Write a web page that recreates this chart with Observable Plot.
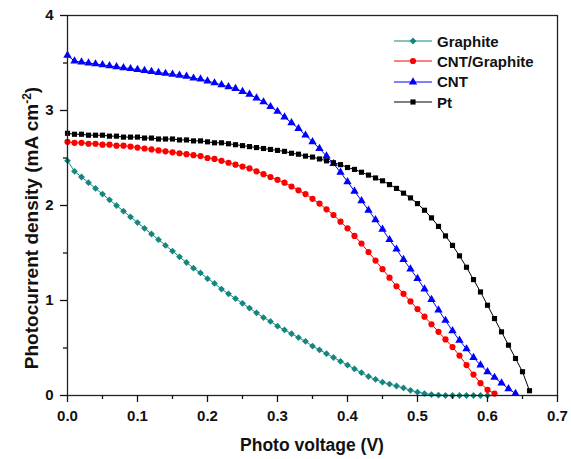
<!DOCTYPE html>
<html>
<head>
<meta charset="utf-8">
<script src="https://cdn.jsdelivr.net/npm/d3@7"></script>
<script src="https://cdn.jsdelivr.net/npm/@observablehq/plot@0.6"></script>
<style>
  html, body { margin: 0; padding: 0; background: #fff; }
  #wrap { position: relative; width: 571px; height: 459px; font-family: "Liberation Sans", Arial, sans-serif; }
  #legend { position: absolute; left: 394px; top: 31px; font-weight: bold; font-size: 15px; color: #111; }
  #legend .row { display: flex; align-items: center; height: 20.3px; }
  #legend svg { margin-right: 5px; }
</style>
</head>
<body>
<div id="wrap"></div>
<script>
// Photo voltage (V)
const voltage = [0.00,0.01,0.02,0.03,0.04,0.05,0.06,0.07,0.08,0.09,
                 0.10,0.11,0.12,0.13,0.14,0.15,0.16,0.17,0.18,0.19,
                 0.20,0.21,0.22,0.23,0.24,0.25,0.26,0.27,0.28,0.29,
                 0.30,0.31,0.32,0.33,0.34,0.35,0.36,0.37,0.38,0.39,
                 0.40,0.41,0.42,0.43,0.44,0.45,0.46,0.47,0.48,0.49,
                 0.50,0.51,0.52,0.53,0.54,0.55,0.56,0.57,0.58,0.59,
                 0.60,0.61,0.62,0.63,0.64,0.65,0.66];

// Photocurrent density (mA cm^-2), one value per voltage step
const graphite = [2.47,2.36,2.30,2.24,2.18,2.12,2.06,2.00,1.94,1.88,
                  1.82,1.76,1.70,1.64,1.58,1.52,1.46,1.40,1.34,1.29,
                  1.23,1.18,1.12,1.07,1.02,0.97,0.92,0.87,0.82,0.78,
                  0.73,0.69,0.65,0.61,0.57,0.52,0.48,0.44,0.40,0.36,
                  0.32,0.28,0.24,0.20,0.17,0.14,0.12,0.10,0.08,0.055,
                  0.035,0.02,0.01,0.005,0,0,0,0,0,0,
                  0];
const cntGraphite = [2.67,2.66,2.66,2.65,2.65,2.64,2.64,2.63,2.63,2.62,
                     2.61,2.60,2.59,2.58,2.57,2.56,2.55,2.54,2.53,2.52,
                     2.50,2.49,2.47,2.45,2.43,2.41,2.39,2.36,2.33,2.30,
                     2.27,2.24,2.20,2.16,2.12,2.07,2.02,1.96,1.90,1.83,
                     1.76,1.68,1.60,1.51,1.42,1.33,1.24,1.15,1.07,0.99,
                     0.91,0.83,0.75,0.67,0.59,0.51,0.42,0.32,0.22,0.13,
                     0.06,0.02];
const cnt = [3.58,3.52,3.51,3.50,3.49,3.48,3.47,3.46,3.45,3.44,
             3.43,3.42,3.41,3.40,3.39,3.38,3.37,3.36,3.34,3.33,
             3.31,3.29,3.27,3.25,3.23,3.20,3.17,3.13,3.09,3.04,
             2.99,2.93,2.87,2.81,2.74,2.67,2.60,2.52,2.44,2.35,
             2.25,2.15,2.05,1.95,1.85,1.75,1.64,1.54,1.43,1.33,
             1.23,1.12,1.01,0.90,0.79,0.68,0.58,0.49,0.40,0.32,
             0.25,0.19,0.13,0.07,0.02];
const pt = [2.76,2.75,2.75,2.74,2.74,2.74,2.73,2.73,2.72,2.72,
            2.72,2.71,2.71,2.70,2.70,2.70,2.69,2.69,2.68,2.68,
            2.67,2.66,2.66,2.65,2.64,2.63,2.62,2.61,2.60,2.59,
            2.58,2.57,2.55,2.54,2.52,2.51,2.49,2.47,2.45,2.43,
            2.40,2.38,2.35,2.32,2.29,2.26,2.22,2.18,2.13,2.08,
            2.02,1.95,1.87,1.78,1.68,1.58,1.47,1.35,1.22,1.09,
            0.95,0.81,0.67,0.53,0.39,0.25,0.05];

const seriesNames = ["Graphite", "CNT/Graphite", "CNT", "Pt"];
const seriesValues = [graphite, cntGraphite, cnt, pt];
const seriesColors = ["#13877f", "#ff0000", "#0000ff", "#000000"];
const seriesSymbols = ["square", "circle", "triangle", "square"];
const seriesRotate = [45, 0, 0, 0];
const seriesR = [2.7, 3.1, 3.1, 2.9];

const xTicks = [0, 0.1, 0.2, 0.3, 0.4, 0.5, 0.6, 0.7];
const xMinorTicks = [0.05, 0.15, 0.25, 0.35, 0.45, 0.55, 0.65];
const yTicks = [0, 1, 2, 3, 4];
const yMinorTicks = [0.5, 1.5, 2.5, 3.5];

const xLabel = "Photo voltage (V)";
const yLabelMain = "Photocurrent density (mA cm";
const yLabelSup = "-2";
const yLabelEnd = ")";

const rows = [];
seriesValues.forEach((vals, s) => {
  vals.forEach((j, i) => rows.push({V: voltage[i], J: j, series: seriesNames[s], s}));
});

const font = '"Liberation Sans", Arial, sans-serif';
const marks = [];
seriesNames.forEach((name, s) => {
  const d = rows.filter(r => r.s === s);
  marks.push(Plot.line(d, {x: "V", y: "J", stroke: seriesColors[s], strokeWidth: 1}));
});
seriesNames.forEach((name, s) => {
  const d = rows.filter(r => r.s === s);
  marks.push(Plot.dot(d, {x: "V", y: "J", fill: seriesColors[s], stroke: "none",
    symbol: seriesSymbols[s], r: seriesR[s], rotate: seriesRotate[s]}));
});

const chart = Plot.plot({
  width: 571, height: 459,
  marginLeft: 67, marginRight: 14, marginTop: 15, marginBottom: 64,
  x: {domain: [0, 0.7]},
  y: {domain: [0, 4]},
  style: {fontFamily: font, fontSize: "15px", fontWeight: "bold", color: "#111", background: "white"},
  marks: [
    ...marks,
    Plot.frame({stroke: "#222", strokeWidth: 1.3}),
    Plot.axisX(xTicks, {tickSize: 7, tickPadding: 8, tickFormat: d => d.toFixed(1), label: null, strokeWidth: 1.3}),
    Plot.axisX(xMinorTicks, {tickSize: 4, text: null, label: null, strokeWidth: 1.3}),
    Plot.axisY(yTicks, {tickSize: 7, tickPadding: 7, tickFormat: d => String(d), label: null, strokeWidth: 1.3}),
    Plot.axisY(yMinorTicks, {tickSize: 4, text: null, label: null, strokeWidth: 1.3})
  ]
});
document.getElementById("wrap").appendChild(chart);

// Axis titles
const svg = d3.select(chart);
svg.append("text")
  .attr("x", 312).attr("y", 451)
  .attr("text-anchor", "middle")
  .attr("font-family", font).attr("font-weight", "bold").attr("font-size", 17.5)
  .attr("fill", "#111")
  .text(xLabel);
const yl = svg.append("text")
  .attr("transform", "translate(38,228) rotate(-90)")
  .attr("text-anchor", "middle")
  .attr("font-family", font).attr("font-weight", "bold").attr("font-size", 19)
  .attr("fill", "#111");
yl.append("tspan").text(yLabelMain);
yl.append("tspan").attr("dy", -7).attr("font-size", 12).text(yLabelSup);
yl.append("tspan").attr("dy", 7).text(yLabelEnd);

// Legend
const legend = d3.select("#wrap").append("div").attr("id", "legend");
seriesNames.forEach((name, s) => {
  const row = legend.append("div").attr("class", "row");
  const sw = row.append("svg").attr("width", 38).attr("height", 14);
  sw.append("line").attr("x1", 0).attr("x2", 38).attr("y1", 7).attr("y2", 7)
    .attr("stroke", seriesColors[s]).attr("stroke-width", 1.2);
  const sym = {square: d3.symbolSquare, circle: d3.symbolCircle, triangle: d3.symbolTriangle}[seriesSymbols[s]];
  sw.append("path").attr("d", d3.symbol(sym, Math.PI * seriesR[s] * seriesR[s])())
    .attr("transform", `translate(19,7) rotate(${seriesRotate[s]})`)
    .attr("fill", seriesColors[s]);
  row.append("span").text(name);
});
</script>
</body>
</html>
